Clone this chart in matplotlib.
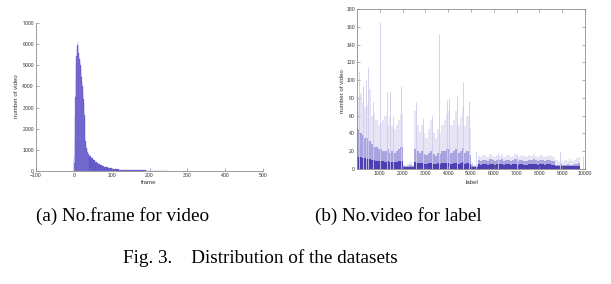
import numpy as np
import matplotlib
matplotlib.use('Agg')
import matplotlib.pyplot as plt

# (a) frames per video: left bin edges and counts
frame_edges = [0, 1, 2, 3, 4, 5, 6, 7, 8, 9, 10, 11, 12, 13, 14, 15, 16, 17, 18, 19,
               20, 21, 22, 23, 24, 25, 26, 27, 28, 29, 30, 31, 32, 33, 34, 35, 36, 37, 38, 39,
               40, 45, 50, 55, 60, 65, 70, 75, 80, 85, 90, 95,
               100, 110, 120, 130, 140, 150, 160, 170, 180, 190, 200, 210, 220, 230, 240, 250]
frame_counts = [750, 400, 1500, 2600, 3500, 4300, 5000, 5450, 5750, 5950, 6100, 5900, 5600, 5450, 5300, 5200, 5100, 5000, 4850, 4700,
                4450, 4200, 4000, 3800, 3600, 3400, 3200, 2900, 2650, 2450, 1400, 1250, 1150, 1080, 1020, 960, 900, 850, 800, 760,
                700, 600, 520, 440, 380, 320, 270, 230, 200, 170, 145, 120,
                100, 85, 70, 60, 50, 42, 36, 30, 26, 22, 20, 17, 15, 13, 10]
frame_spike = (240, 440)

# (b) videos per label, in blocks of 100 labels
label_light = [80, 85, 75, 70, 72, 90, 60, 62, 55, 50, 52, 55, 60, 50, 58, 48, 45, 50, 55, 62,
               5, 4, 6, 8, 5,
               65, 50, 42, 50, 40, 35, 45, 55, 40, 35, 45, 40, 50, 55, 62, 65, 50, 55, 65, 50, 58, 70, 48, 60, 45,
               8, 5, 6,
               15, 14, 16, 15, 13, 17, 15, 14, 16, 15, 17, 14, 15, 16, 14, 15, 17, 14, 15, 16, 15, 14, 16, 15, 17, 15, 14, 16, 15, 14, 15, 16, 15, 14,
               10, 9, 10, 8, 10, 9, 11, 9, 10, 12, 14]
label_mid = [45, 40, 38, 35, 35, 32, 28, 25, 25, 22, 22, 20, 20, 22, 18, 20, 18, 20, 22, 25,
             3, 3, 3, 4, 3,
             22, 20, 18, 20, 17, 16, 18, 20, 17, 15, 18, 17, 20, 20, 22, 22, 18, 20, 22, 18, 20, 24, 18, 20, 16,
             4, 3, 3,
             10, 9, 10, 10, 9, 11, 10, 9, 10, 10, 11, 9, 10, 10, 9, 10, 11, 9, 10, 10, 9, 9, 10, 10, 11, 10, 9, 10, 10, 9, 10, 10, 9, 9,
             5, 5, 6, 5, 5, 6, 5, 5, 6, 6, 7]
label_dark = [14, 13, 12, 12, 11, 11, 10, 10, 9, 9, 9, 9, 8, 9, 8, 8, 8, 8, 9, 9,
              2, 2, 2, 2, 2,
              8, 7, 7, 7, 6, 6, 7, 7, 6, 6, 7, 6, 7, 7, 7, 7, 6, 7, 7, 6, 7, 8, 6, 7, 6,
              2, 2, 2,
              6, 5, 6, 6, 5, 6, 6, 5, 6, 6, 6, 5, 6, 6, 5, 6, 6, 5, 6, 6, 5, 5, 6, 6, 6, 6, 5, 6, 6, 5, 6, 6, 5, 5,
              3, 3, 3, 3, 3, 3, 3, 3, 3, 3, 3]
spike_labels = [100, 250, 400, 500, 700, 1000, 1300, 1450, 1600, 1950,
                2600, 2900, 3300, 3600, 3950, 4050, 4400, 4650, 4900,
                5200, 6200, 7000, 8900, 9900]
spike_heights = [110, 93, 100, 115, 75, 165, 87, 88, 60, 93,
                 75, 57, 60, 152, 78, 80, 82, 98, 77,
                 20, 18, 17, 20, 15]

W, H = 611, 284
fig = plt.figure(figsize=(W / 100, H / 100), dpi=100)
tick_font = dict(fontsize=3.7, family='Liberation Sans', color='#333333')
label_font = dict(fontsize=4.4, family='Liberation Sans', color='#333333')
spine_col = '#8c8c8c'
bar_col = '#5b4fc4'


def px_axes(x0, y0, x1, y1):
    return fig.add_axes([x0 / W, 1 - y1 / H, (x1 - x0) / W, (y1 - y0) / H])


def style(ax):
    for s in ax.spines.values():
        s.set_color(spine_col)
        s.set_linewidth(0.6)
    ax.tick_params(direction='in', length=2, width=0.5, color=spine_col, pad=1.5)
    for t in ax.get_xticklabels() + ax.get_yticklabels():
        t.set(**tick_font)


# (a)
ax1 = px_axes(36, 23, 263, 171)
edges = np.array(frame_edges)
ax1.bar(edges[:-1], frame_counts, width=np.diff(edges), align='edge',
        color=bar_col, edgecolor='#8379d6', linewidth=0.25)
ax1.bar(frame_spike[0], frame_spike[1], width=1.2, align='edge', color='#9f97dd', linewidth=0)
ax1.set_xlim(-100, 500)
ax1.set_ylim(0, 7000)
ax1.set_xticks(range(-100, 501, 100))
ax1.set_yticks(range(0, 7001, 1000))
ax1.spines['top'].set_visible(False)
ax1.spines['right'].set_visible(False)
style(ax1)
fig.text(149 / W, 1 - 183 / H, 'frame', ha='center', va='center', **label_font)
fig.text(16 / W, 1 - 96 / H, 'number of video', ha='center', va='center', rotation=90, **label_font)

# (b)
ax2 = px_axes(357, 9, 585, 169)
label_edges = np.arange(len(label_light) + 1) * 100
ax2.stairs(label_light, label_edges, fill=True, color='#e6e4f5', linewidth=0)
ax2.vlines(spike_labels, 0, spike_heights, color='#cfcbee', linewidth=0.6)
ax2.stairs(label_mid, label_edges, fill=True, color='#aaa4de', linewidth=0)
ax2.stairs(label_dark, label_edges, fill=True, color='#4b3fb2', linewidth=0)
ax2.set_xlim(0, 10000)
ax2.set_ylim(0, 180)
ax2.set_xticks(range(1000, 10001, 1000))
ax2.set_yticks(range(0, 181, 20))
ax2.tick_params(top=True, right=True)
style(ax2)
fig.text(472 / W, 1 - 182 / H, 'label', ha='center', va='center', **label_font)
fig.text(342 / W, 1 - 91 / H, 'number of video', ha='center', va='center', rotation=90, **label_font)

# captions
cap_font = dict(fontsize=13.8, family='Liberation Serif', color='black', ha='center', va='center')
fig.text(123 / W, 1 - 216 / H, '(a) No.frame for video', **cap_font)
fig.text(398 / W, 1 - 216 / H, '(b) No.video for label', **cap_font)
fig.text(260 / W, 1 - 258 / H, 'Fig. 3.    Distribution of the datasets', **cap_font)

fig.savefig('out.png', dpi=100)
